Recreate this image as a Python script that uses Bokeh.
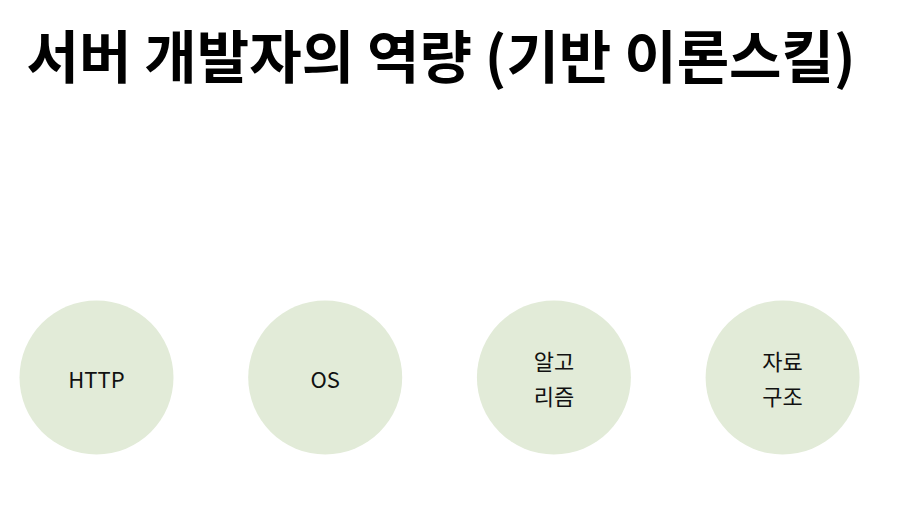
from bokeh.plotting import figure
from bokeh.models import ColumnDataSource, Range1d
from bokeh.core.properties import value
from bokeh.embed import file_html
from bokeh.resources import INLINE

title = "서버 개발자의 역량 (기반 이론스킬)"
skills = ["HTTP", "OS", "알고\n리즘", "자료\n구조"]
slot = [0, 1, 2, 3]

W, H = 888, 500
p = figure(width=W, height=H, output_backend="svg", toolbar_location=None,
           x_range=Range1d(0, W), y_range=Range1d(H, 0), min_border=0)
p.axis.visible = False
p.grid.visible = False
p.outline_line_color = None
p.background_fill_color = "white"

xs = [96 + i * 228.7 for i in slot]
ys = [377] * len(slot)
src = ColumnDataSource(dict(x=xs, y=ys, t=skills))
p.circle("x", "y", radius=77, source=src, fill_color="#e2ebd8", line_color=None)
p.text("x", "y", text="t", source=src, text_align="center", text_baseline="middle",
       text_font=value("Noto Sans CJK KR"), text_font_size="22px", text_color="#111111",
       text_line_height=1.1)
p.text([26], [52], text=[title], text_align="left", text_baseline="middle",
       text_font=value("Noto Sans CJK KR"), text_font_size="57px", text_font_style="bold",
       text_color="#000000")

open("out.html", "w").write(file_html(p, INLINE))
